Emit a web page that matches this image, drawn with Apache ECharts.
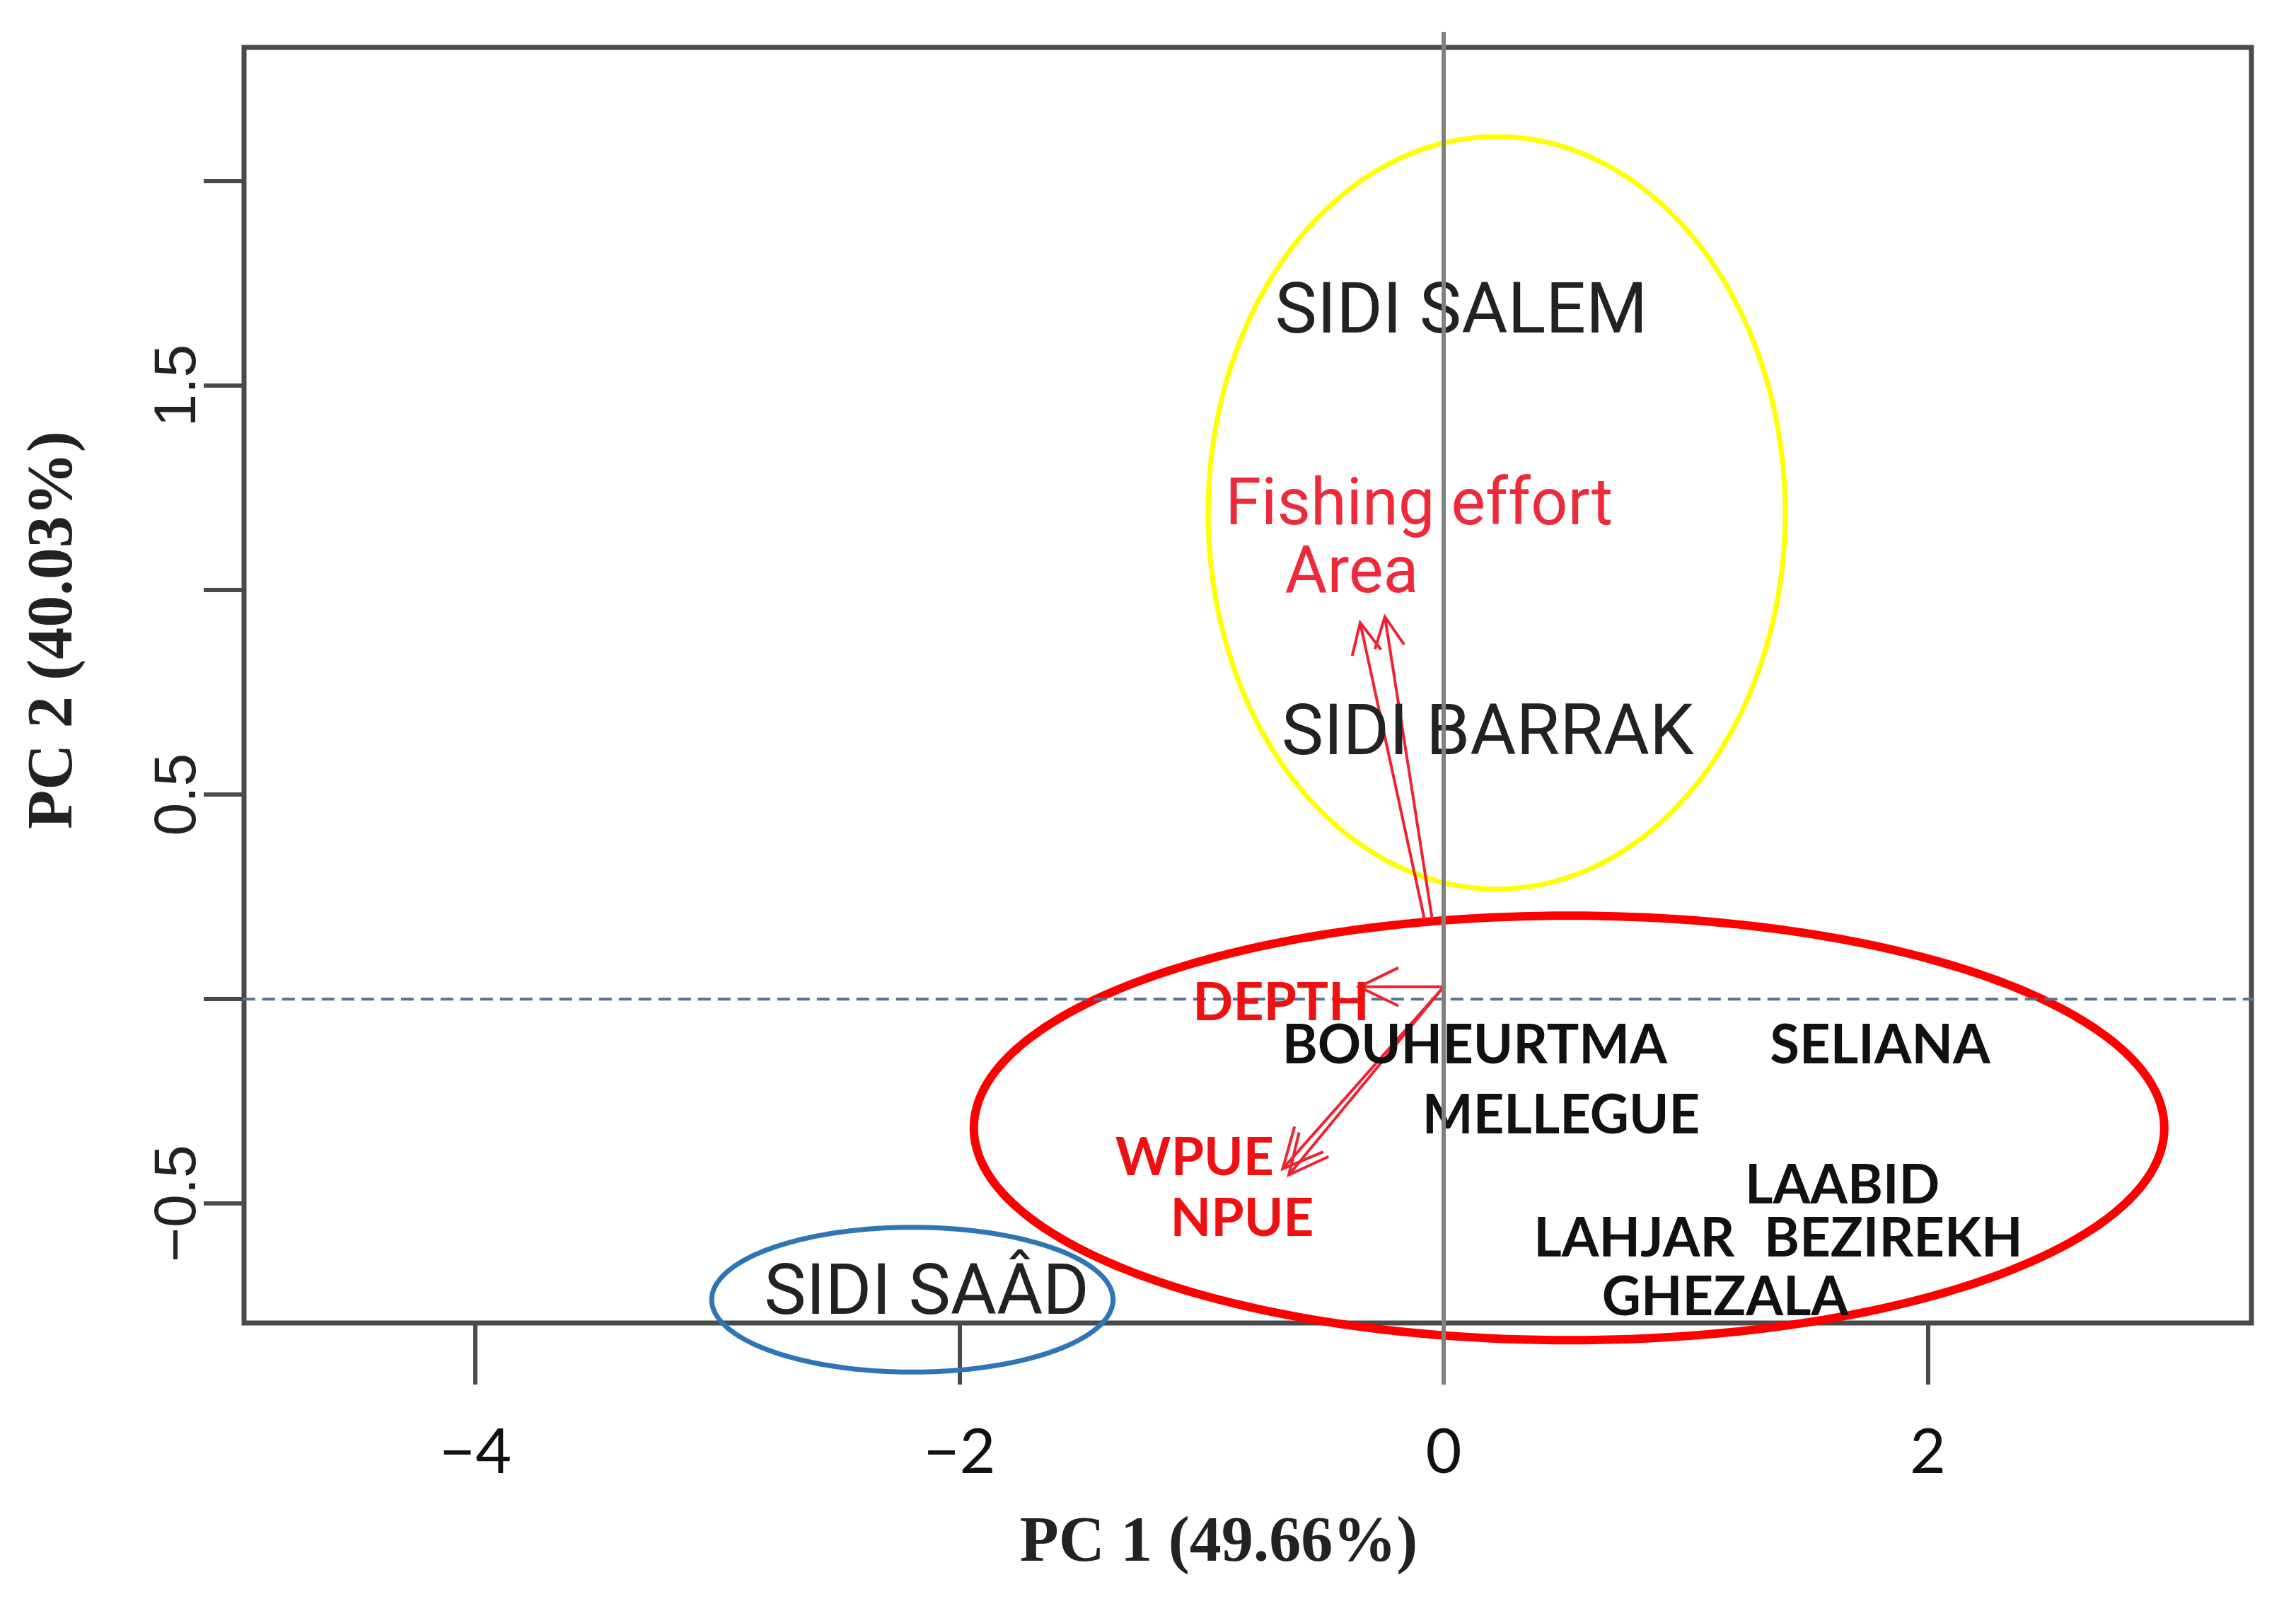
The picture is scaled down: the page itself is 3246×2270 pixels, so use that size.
<!DOCTYPE html>
<html><head><meta charset="utf-8">
<script src="https://cdn.jsdelivr.net/npm/echarts@6/dist/echarts.min.js"></script>
<style>html,body{margin:0;padding:0;background:#fff}#c{width:3246px;height:2270px}</style>
</head><body><div id="c"></div>
<script>
// ---- axes ----
const xRange = [-4.956, 3.337];
const yRange = [-0.792, 2.327];
const xTickValues = [-4, -2, 0, 2];
const yTickValues = [-0.5, 0, 0.5, 1, 1.5, 2];
const yLabelValues = [-0.5, 0.5, 1.5];
const xTitle = 'PC 1 (49.66%)';
const yTitle = 'PC 2 (40.03%)';

// ---- site scores (plain labels) ----
const siteNames = ['SIDI SALEM', 'SIDI BARRAK', 'SIDI SAÂD'];
const siteX = [0.073, 0.182, -2.136];
const siteY = [1.673, 0.642, -0.727];

// ---- site scores (bold labels) ----
const boldSiteNames = ['BOUHEURTMA', 'SELIANA', 'MELLEGUE', 'LAABID', 'LAHJAR', 'BEZIREKH', 'GHEZALA'];
const boldSiteX = [0.128, 1.803, 0.485, 1.647, 0.787, 1.858, 1.163];
const boldSiteY = [-0.114, -0.114, -0.286, -0.458, -0.587, -0.587, -0.730];

// ---- variable loadings (arrows + labels) ----
const varNames = ['Fishing effort', 'Area', 'DEPTH', 'WPUE', 'NPUE'];
const varLabelX = [-0.102, -0.38, -0.672, -1.029, -0.833];
const varLabelY = [1.20, 1.035, -0.01, -0.389, -0.537];
const arrowFromX = [-0.047, -0.079, 0, 0, 0];
const arrowFromY = [0.194, 0.194, 0.03, 0.03, 0.03];
const arrowToX = [-0.243, -0.345, -0.35, -0.665, -0.64];
const arrowToY = [0.935, 0.92, 0.03, -0.415, -0.43];

// ---- grouping ellipses ----
const ellipseCX = [0.219, 0.518, -2.195];
const ellipseCY = [1.189, -0.315, -0.735];
const ellipseRX = [1.192, 2.459, 0.829];
const ellipseRY = [0.920, 0.519, 0.177];

// ---- reference lines ----
const hLineX = [-5.126, 3.40];
const vLineY = [-0.943, 2.365];

const ellipseStyle = [
  {stroke: '#ffff00', lineWidth: 7},
  {stroke: '#ff0000', lineWidth: 12},
  {stroke: '#2e75b6', lineWidth: 7}
];
const boxColor = '#4a4a4a';
const redVar = ['#ee2a3a', '#ee2a3a', '#ee1111', '#ee1111', '#ee1111'];
const varFont = ['92px Roboto', '92px Roboto', 'bold 75px Lato', 'bold 75px Lato', 'bold 75px Lato'];
const headLen = [48, 48, 62, 62, 62];

function fmt(v, d) {
  const s = Math.abs(v).toFixed(d);
  return (v < 0 ? '\u2212' : '') + s;
}

const chart = echarts.init(document.getElementById('c'), null, {renderer: 'canvas'});
chart.setOption({
  backgroundColor: '#ffffff',
  animation: false,
  grid: {left: 345, top: 67, right: 63, bottom: 400, show: true,
         borderColor: boxColor, borderWidth: 7, backgroundColor: 'transparent'},
  xAxis: {
    type: 'value', min: xRange[0], max: xRange[1],
    splitLine: {show: false}, axisLine: {show: false, onZero: false},
    axisTick: {show: true, customValues: xTickValues, length: 87, lineStyle: {color: boxColor, width: 6}},
    axisLabel: {show: true, customValues: xTickValues, margin: 140, color: '#111',
                fontFamily: 'Lato', fontSize: 88, formatter: v => fmt(v, 0)},
    name: xTitle, nameLocation: 'middle', nameGap: 268,
    nameTextStyle: {fontFamily: 'Liberation Serif', fontWeight: 'bold', fontSize: 90, color: '#222', padding: [0, 82, 0, 0]}
  },
  yAxis: {
    type: 'value', min: yRange[0], max: yRange[1],
    splitLine: {show: false}, axisLine: {show: false, onZero: false},
    axisTick: {show: true, customValues: yTickValues, length: 57, lineStyle: {color: boxColor, width: 6}},
    axisLabel: {show: true, customValues: yLabelValues, rotate: 90, margin: 50, color: '#222',
                fontFamily: 'Liberation Sans', fontSize: 84, formatter: v => fmt(v, 1)},
    name: yTitle, nameLocation: 'middle', nameGap: 222,
    nameTextStyle: {fontFamily: 'Liberation Serif', fontWeight: 'bold', fontSize: 90, color: '#222', padding: [0, 0, 0, 156]}
  },
  series: [
    { // grouping ellipses
      type: 'custom', coordinateSystem: 'cartesian2d', silent: true, clip: false, z: 2,
      encode: {x: 0, y: 1},
      data: ellipseCX.map((cx, i) => [cx, ellipseCY[i], ellipseRX[i], ellipseRY[i]]),
      renderItem: function (params, api) {
        const c = api.coord([api.value(0), api.value(1)]);
        const s = api.size([api.value(2), api.value(3)], [api.value(0), api.value(1)]);
        const pts = [];
        for (let k = 0; k < 240; k++) {
          const t = k / 240 * Math.PI * 2;
          pts.push([c[0] + s[0] * Math.cos(t), c[1] + s[1] * Math.sin(t)]);
        }
        const st = ellipseStyle[params.dataIndex];
        return {type: 'polygon', shape: {points: pts}, style: {fill: 'none', stroke: st.stroke, lineWidth: st.lineWidth}};
      }
    },
    { // horizontal dashed reference line
      type: 'line', silent: true, clip: false, symbol: 'none', z: 3,
      data: [[hLineX[0], 0], [hLineX[1], 0]],
      lineStyle: {color: '#5b7190', width: 4, type: [18, 10]}
    },
    { // variable arrows
      type: 'custom', coordinateSystem: 'cartesian2d', silent: true, clip: false, z: 4,
      encode: {x: [0, 2], y: [1, 3]},
      data: arrowFromX.map((x0, i) => [x0, arrowFromY[i], arrowToX[i], arrowToY[i]]),
      renderItem: function (params, api) {
        const p0 = api.coord([api.value(0), api.value(1)]);
        const p1 = api.coord([api.value(2), api.value(3)]);
        const ang = Math.atan2(p1[1] - p0[1], p1[0] - p0[0]);
        const L = headLen[params.dataIndex], a = 0.45;
        const h1 = [p1[0] - L * Math.cos(ang - a), p1[1] - L * Math.sin(ang - a)];
        const h2 = [p1[0] - L * Math.cos(ang + a), p1[1] - L * Math.sin(ang + a)];
        const col = '#ee2233';
        return {type: 'group', children: [
          {type: 'line', shape: {x1: p0[0], y1: p0[1], x2: p1[0], y2: p1[1]}, style: {stroke: col, lineWidth: 4}},
          {type: 'polyline', shape: {points: [h1, p1, h2]}, style: {stroke: col, lineWidth: 4, fill: 'none'}}
        ]};
      }
    },
    { // plain site labels
      type: 'custom', coordinateSystem: 'cartesian2d', silent: true, clip: false, z: 5,
      data: siteX.map((x, i) => [x, siteY[i]]),
      renderItem: function (params, api) {
        const p = api.coord([api.value(0), api.value(1)]);
        return {type: 'text', x: p[0], y: p[1], style: {text: siteNames[params.dataIndex], fill: '#222222',
          font: '100px Roboto', align: 'center', verticalAlign: 'middle'}};
      }
    },
    { // bold site labels
      type: 'custom', coordinateSystem: 'cartesian2d', silent: true, clip: false, z: 5,
      data: boldSiteX.map((x, i) => [x, boldSiteY[i]]),
      renderItem: function (params, api) {
        const p = api.coord([api.value(0), api.value(1)]);
        return {type: 'text', x: p[0], y: p[1], style: {text: boldSiteNames[params.dataIndex], fill: '#111111',
          font: 'bold 76px Lato', align: 'center', verticalAlign: 'middle'}};
      }
    },
    { // variable labels
      type: 'custom', coordinateSystem: 'cartesian2d', silent: true, clip: false, z: 5,
      data: varLabelX.map((x, i) => [x, varLabelY[i]]),
      renderItem: function (params, api) {
        const p = api.coord([api.value(0), api.value(1)]);
        const i = params.dataIndex;
        return {type: 'text', x: p[0], y: p[1], style: {text: varNames[i], fill: redVar[i],
          font: varFont[i], align: 'center', verticalAlign: 'middle'}};
      }
    },
    { // vertical zero line
      type: 'line', silent: true, clip: false, symbol: 'none', z: 6,
      data: [[0, vLineY[0]], [0, vLineY[1]]],
      lineStyle: {color: '#808080', width: 6}
    }
  ]
});
</script></body></html>
